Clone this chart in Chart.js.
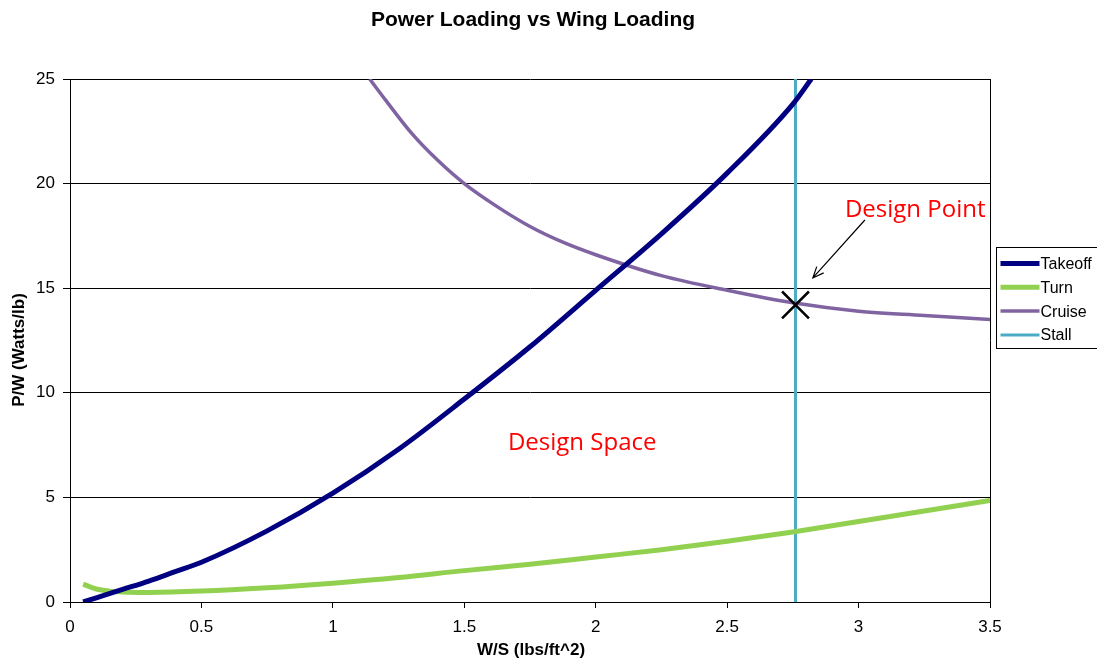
<!DOCTYPE html>
<html>
<head>
<meta charset="utf-8">
<script src="https://cdn.jsdelivr.net/npm/chart.js@4/dist/chart.umd.min.js"></script>
<style>
  html, body { margin: 0; padding: 0; background: #fff; }
  #wrap { width: 1097px; height: 665px; }
</style>
</head>
<body>
<div id="wrap"><canvas id="chart"></canvas></div>
<script>
// ---- data ----
const takeoffX = [0.05, 0.1, 0.2, 0.3, 0.4, 0.5, 0.75, 1.0, 1.25, 1.5, 1.75, 2.0, 2.25, 2.5, 2.75, 2.82];
const takeoffY = [0.0, 0.2, 0.6, 1.0, 1.45, 1.9, 3.4, 5.2, 7.3, 9.7, 12.2, 14.9, 17.6, 20.5, 23.8, 25.0];

const turnX = [0.05, 0.1, 0.15, 0.2, 0.3, 0.5, 0.75, 1.0, 1.25, 1.5, 1.75, 2.0, 2.25, 2.5, 2.75, 3.0, 3.25, 3.5];
const turnY = [0.85, 0.62, 0.52, 0.48, 0.46, 0.52, 0.68, 0.9, 1.17, 1.5, 1.8, 2.15, 2.5, 2.9, 3.35, 3.85, 4.35, 4.85];

const cruiseX = [1.14, 1.2, 1.3, 1.4, 1.5, 1.625, 1.75, 1.875, 2.0, 2.25, 2.5, 2.75, 3.0, 3.25, 3.5];
const cruiseY = [25.0, 24.0, 22.4, 21.1, 20.0, 18.9, 17.95, 17.2, 16.6, 15.6, 14.9, 14.3, 13.9, 13.7, 13.5];

const stallX = [2.76, 2.76];
const stallY = [0, 25];

const designPoint = { x: 2.76, y: 14.2 };

const seriesNames = ['Takeoff', 'Turn', 'Cruise', 'Stall'];
const seriesColors = ['#000080', '#92D050', '#8064A2', '#4BACC6'];
const seriesWidths = [5, 5, 3.5, 3];

const xTicks = [0, 0.5, 1, 1.5, 2, 2.5, 3, 3.5];
const yTicks = [0, 5, 10, 15, 20, 25];

function pairs(xs, ys) {
  return xs.map((x, i) => ({ x: x, y: ys[i] }));
}

const AXIS_FONT = '"Liberation Sans", Arial, sans-serif';
const NOTE_FONT = '"Open Sans", "Noto Sans", sans-serif';

// ---- title, legend box, annotations ----
const extras = {
  id: 'extras',
  afterDraw(chart) {
    const { ctx, chartArea, scales } = chart;
    const xs = scales.x, ys = scales.y;
    ctx.save();

    // right border of plot
    ctx.strokeStyle = '#000';
    ctx.lineWidth = 1;
    ctx.beginPath();
    ctx.moveTo(chartArea.right + 0.5, chartArea.top);
    ctx.lineTo(chartArea.right + 0.5, chartArea.bottom);
    ctx.stroke();

    // title
    ctx.fillStyle = '#000';
    ctx.font = 'bold 21px ' + AXIS_FONT;
    ctx.textAlign = 'center';
    ctx.textBaseline = 'middle';
    ctx.fillText('Power Loading vs Wing Loading', 533, 20);

    // axis titles
    ctx.font = 'bold 17px ' + AXIS_FONT;
    ctx.fillText('W/S (lbs/ft^2)', 531, 650);
    ctx.save();
    ctx.translate(19, 350);
    ctx.rotate(-Math.PI / 2);
    ctx.fillText('P/W (Watts/lb)', 0, 0);
    ctx.restore();

    // legend
    const lx = 996.5, ly = 247.5, lw = 101, lh = 101;
    ctx.strokeStyle = '#000';
    ctx.lineWidth = 1;
    ctx.fillStyle = '#fff';
    ctx.fillRect(lx, ly, lw, lh);
    ctx.strokeRect(lx, ly, lw, lh);
    ctx.font = '16px ' + AXIS_FONT;
    ctx.textAlign = 'left';
    seriesNames.forEach((name, i) => {
      const cy = ly + 16 + i * 23.8;
      ctx.strokeStyle = seriesColors[i];
      ctx.lineWidth = seriesWidths[i];
      ctx.beginPath();
      ctx.moveTo(lx + 4, cy);
      ctx.lineTo(lx + 43, cy);
      ctx.stroke();
      ctx.fillStyle = '#000';
      ctx.fillText(name, lx + 44, cy + 1);
    });

    // annotations (in data units)
    ctx.fillStyle = '#FF0000';
    ctx.font = '24px ' + NOTE_FONT;
    ctx.textAlign = 'left';
    ctx.fillText('Design Point', xs.getPixelForValue(2.948), ys.getPixelForValue(18.74));
    ctx.fillText('Design Space', xs.getPixelForValue(1.666), ys.getPixelForValue(7.6));

    // arrow
    const ax0 = xs.getPixelForValue(3.024), ay0 = ys.getPixelForValue(18.26);
    const ax1 = xs.getPixelForValue(2.826), ay1 = ys.getPixelForValue(15.49);
    ctx.strokeStyle = '#000';
    ctx.lineWidth = 1.2;
    ctx.beginPath();
    ctx.moveTo(ax0, ay0);
    ctx.lineTo(ax1, ay1);
    const ang = Math.atan2(ay1 - ay0, ax1 - ax0);
    const hl = 12;
    ctx.moveTo(ax1 - hl * Math.cos(ang - 0.4), ay1 - hl * Math.sin(ang - 0.4));
    ctx.lineTo(ax1, ay1);
    ctx.lineTo(ax1 - hl * Math.cos(ang + 0.4), ay1 - hl * Math.sin(ang + 0.4));
    ctx.stroke();

    ctx.restore();
  }
};

const lineSets = [
  pairs(takeoffX, takeoffY),
  pairs(turnX, turnY),
  pairs(cruiseX, cruiseY),
  pairs(stallX, stallY)
].map((data, i) => ({
  label: seriesNames[i],
  data: data,
  showLine: true,
  borderColor: seriesColors[i],
  backgroundColor: seriesColors[i],
  borderWidth: seriesWidths[i],
  pointRadius: 0,
  cubicInterpolationMode: 'monotone',
  borderCapStyle: 'butt',
  order: 2
}));

lineSets.push({
  label: 'Design Point',
  data: [designPoint],
  pointStyle: 'crossRot',
  pointRadius: 19,
  pointBorderWidth: 2.5,
  borderColor: '#000',
  backgroundColor: '#000',
  showLine: false,
  order: 1
});

new Chart(document.getElementById('chart'), {
  type: 'scatter',
  data: { datasets: lineSets },
  plugins: [extras],
  options: {
    responsive: true,
    maintainAspectRatio: false,
    animation: false,
    layout: { padding: { top: 79, right: 107, left: 0, bottom: 0 } },
    plugins: {
      legend: { display: false },
      tooltip: { enabled: false },
      title: { display: false }
    },
    scales: {
      x: {
        type: 'linear',
        min: 0,
        max: 3.5,
        afterFit(scale) { scale.height = 63; },
        afterBuildTicks(scale) { scale.ticks = xTicks.map(v => ({ value: v })); },
        grid: {
          drawOnChartArea: false,
          drawTicks: true,
          tickLength: 6,
          tickColor: '#000'
        },
        border: { display: true, color: '#000', width: 1 },
        ticks: {
          color: '#000',
          padding: 9,
          font: { family: AXIS_FONT, size: 17 },
          maxRotation: 0,
          callback: v => String(v)
        }
      },
      y: {
        min: 0,
        max: 25,
        afterFit(scale) { scale.width = 70; },
        afterBuildTicks(scale) { scale.ticks = yTicks.map(v => ({ value: v })); },
        grid: {
          color: '#000',
          lineWidth: 1,
          drawTicks: true,
          tickLength: 7,
          tickColor: '#000'
        },
        border: { display: true, color: '#000', width: 1 },
        ticks: {
          color: '#000',
          padding: 8,
          font: { family: AXIS_FONT, size: 17 },
          callback: v => String(v)
        }
      }
    }
  }
});
</script>
</body>
</html>
